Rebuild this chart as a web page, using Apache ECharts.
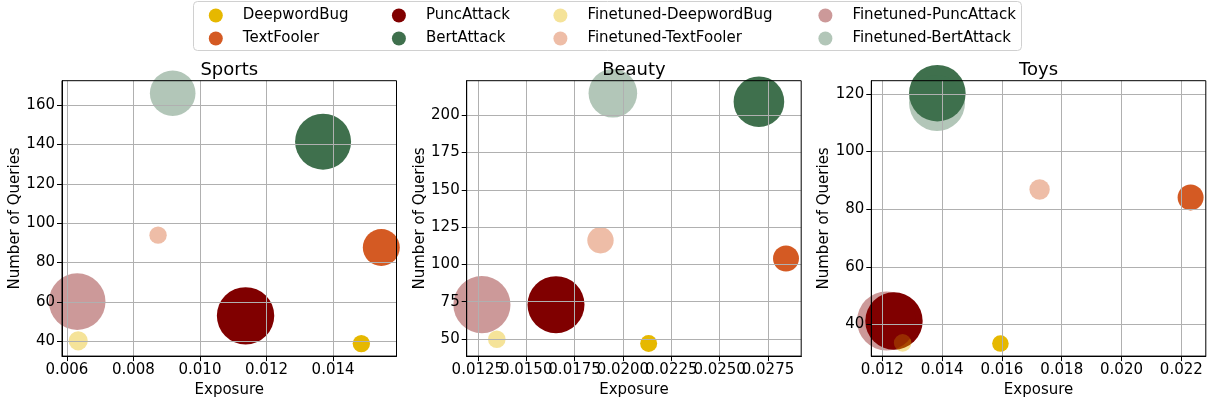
<!DOCTYPE html>
<html><head><meta charset="utf-8">
<script src="https://cdn.jsdelivr.net/npm/echarts@6/dist/echarts.min.js"></script>
<style>html,body{margin:0;padding:0;background:#fff}#c{width:1208px;height:403px}</style>
</head><body><div id="c"></div>
<script>
// ---------------- data ----------------
const methods = ['DeepwordBug', 'TextFooler', 'PuncAttack', 'BertAttack'];
const ftMethods = ['Finetuned-DeepwordBug', 'Finetuned-TextFooler', 'Finetuned-PuncAttack', 'Finetuned-BertAttack'];
const domains = ['Sports', 'Beauty', 'Toys'];

// order within each array: DeepwordBug, TextFooler, PuncAttack, BertAttack
const sportsExposure   = [0.01485, 0.01545, 0.01137, 0.01370];
const sportsQueries    = [38.8, 87.6, 52.9, 141.4];
const sportsSize       = [123, 557, 1341, 1277];
const sportsFtExposure = [0.00634, 0.00874, 0.00631, 0.00918];
const sportsFtQueries  = [40.2, 93.9, 60.1, 166.0];
const sportsFtSize     = [150, 123, 1305, 847];

const beautyExposure   = [0.02133, 0.02843, 0.01654, 0.02703];
const beautyQueries    = [46.9, 104.0, 73.0, 209.1];
const beautySize       = [118, 275, 1323, 1043];
const beautyFtExposure = [0.01348, 0.01884, 0.01271, 0.01948];
const beautyFtQueries  = [49.8, 116.2, 73.0, 214.8];
const beautyFtSize     = [126, 283, 1330, 962];

const toysExposure   = [0.01595, 0.02231, 0.01239, 0.01384];
const toysQueries    = [33.35, 84.06, 41.2, 120.2];
const toysSize       = [112, 275, 1341, 1304];
const toysFtExposure = [0.01268, 0.01726, 0.01214, 0.01383];
const toysFtQueries  = [33.6, 86.8, 41.2, 116.8];
const toysFtSize     = [126, 169, 1417, 1277];

const sportsXTicks = [0.006, 0.008, 0.010, 0.012, 0.014];
const sportsYTicks = [40, 60, 80, 100, 120, 140, 160];
const beautyXTicks = [0.0125, 0.0150, 0.0175, 0.0200, 0.0225, 0.0250, 0.0275];
const beautyYTicks = [50, 75, 100, 125, 150, 175, 200];
const toysXTicks = [0.012, 0.014, 0.016, 0.018, 0.020, 0.022];
const toysYTicks = [40, 60, 80, 100, 120];

// ---------------- styles ----------------
const baseColors = ['#E6B800', '#D45A23', '#800000', '#3F704D'];
const ftColors = ['rgba(230,184,0,0.4)', 'rgba(212,90,35,0.4)', 'rgba(128,0,0,0.4)', 'rgba(63,112,77,0.4)'];
const FONT = 'DejaVu Sans';

const panels = [
  {title: domains[0], x: sportsExposure, y: sportsQueries, s: sportsSize, fx: sportsFtExposure, fy: sportsFtQueries, fs: sportsFtSize, xt: sportsXTicks, yt: sportsYTicks, dec: 3, left: 62, split: false},
  {title: domains[1], x: beautyExposure, y: beautyQueries, s: beautySize, fx: beautyFtExposure, fy: beautyFtQueries, fs: beautyFtSize, xt: beautyXTicks, yt: beautyYTicks, dec: 4, left: 466.7, split: true},
  {title: domains[2], x: toysExposure, y: toysQueries, s: toysSize, fx: toysFtExposure, fy: toysFtQueries, fs: toysFtSize, xt: toysXTicks, yt: toysYTicks, dec: 3, left: 871.3, split: false}
];
const GW = 334.5, GT = 80.7, GH = 278.3;

function padded(a, b) {
  const all = a.concat(b);
  const lo = Math.min.apply(null, all), hi = Math.max.apply(null, all);
  const m = (hi - lo) * 0.05;
  return [lo - m, hi + m];
}
function bubble(v) { return 2 * Math.sqrt(v[2] / Math.PI) * 100 / 72; }

function makeXAxis(i, xr, ticks, dec, withName) {
  return {
    type: 'value', gridIndex: i, min: xr[0], max: xr[1], z: 3, position: 'bottom', offset: 0,
    name: withName ? 'Exposure' : '', nameLocation: 'middle', nameGap: 24,
    nameTextStyle: {fontFamily: FONT, fontSize: 15, color: '#000'},
    axisLine: {show: true, onZero: false, lineStyle: {color: '#000', width: 1}},
    axisTick: {show: true, inside: false, length: 5, lineStyle: {color: '#000', width: 1}, customValues: ticks},
    axisLabel: {customValues: ticks, fontFamily: FONT, fontSize: 15, color: '#000', margin: 7,
      showMinLabel: true, showMaxLabel: true, hideOverlap: false,
      formatter: function (v) { return v.toFixed(dec); }},
    splitLine: {show: true, lineStyle: {color: '#b0b0b0', width: 1}}
  };
}

const grids = [], xAxes = [], yAxes = [], series = [], graphics = [];
panels.forEach(function (p, i) {
  grids.push({left: p.left, top: GT, width: GW, height: GH, show: true, borderColor: '#000', borderWidth: 1, backgroundColor: 'transparent', z: 10});
  const xr = padded(p.x, p.fx), yr = padded(p.y, p.fy);
  const xIdx = xAxes.length;
  if (p.split) {
    // labels overlap in the reference; put alternate ticks on two stacked axes so none are culled
    xAxes.push(makeXAxis(i, xr, p.xt.filter(function (_, k) { return k % 2 === 0; }), p.dec, true));
    xAxes.push(makeXAxis(i, xr, p.xt.filter(function (_, k) { return k % 2 === 1; }), p.dec, false));
  } else {
    xAxes.push(makeXAxis(i, xr, p.xt, p.dec, true));
  }
  yAxes.push({
    type: 'value', gridIndex: i, min: yr[0], max: yr[1], z: 3,
    name: 'Number of Queries', nameLocation: 'middle', nameGap: 38,
    nameTextStyle: {fontFamily: FONT, fontSize: 15, color: '#000'},
    axisLine: {show: true, onZero: false, lineStyle: {color: '#000', width: 1}},
    axisTick: {show: true, inside: false, length: 5, lineStyle: {color: '#000', width: 1}, customValues: p.yt},
    axisLabel: {customValues: p.yt, fontFamily: FONT, fontSize: 15, color: '#000', margin: 7,
      showMinLabel: true, showMaxLabel: true, hideOverlap: false},
    splitLine: {show: true, lineStyle: {color: '#b0b0b0', width: 1}}
  });
  methods.forEach(function (m, k) {
    series.push({type: 'scatter', name: m, xAxisIndex: xIdx, yAxisIndex: i, symbol: 'circle',
      symbolSize: bubble, itemStyle: {color: baseColors[k], opacity: 1}, clip: true,
      data: [[p.x[k], p.y[k], p.s[k]]]});
  });
  ftMethods.forEach(function (m, k) {
    series.push({type: 'scatter', name: m, xAxisIndex: xIdx, yAxisIndex: i, symbol: 'circle',
      symbolSize: bubble, itemStyle: {color: ftColors[k], opacity: 1}, clip: true,
      data: [[p.fx[k], p.fy[k], p.fs[k]]]});
  });
  graphics.push({type: 'text', x: p.left + GW / 2, y: 70, z: 5,
    style: {text: p.title, fontFamily: FONT, fontSize: 18, fill: '#000', textAlign: 'center', textVerticalAlign: 'middle'}});
});

graphics.push({type: 'rect', z: 0, shape: {x: 193.5, y: 1.5, width: 828, height: 49, r: 4},
  style: {fill: '#fff', stroke: '#d0d0d0', lineWidth: 1}});

const legendCols = [[methods[0], methods[1]], [methods[2], methods[3]], [ftMethods[0], ftMethods[1]], [ftMethods[2], ftMethods[3]]];
const legendLefts = [208.8, 391.9, 553.4, 818.4];
const legends = legendCols.map(function (d, j) {
  return {data: d, orient: 'vertical', left: legendLefts[j], top: 8, padding: 0, itemGap: 8,
    itemWidth: 14, itemHeight: 14, icon: 'circle', z: 6,
    textStyle: {fontFamily: FONT, fontSize: 15, color: '#000', lineHeight: 14, padding: [0, 0, 0, 15]}};
});

const chart = echarts.init(document.getElementById('c'), null, {renderer: 'canvas'});
chart.setOption({
  animation: false,
  backgroundColor: '#fff',
  grid: grids, xAxis: xAxes, yAxis: yAxes, series: series,
  legend: legends, graphic: graphics
});
</script></body></html>
